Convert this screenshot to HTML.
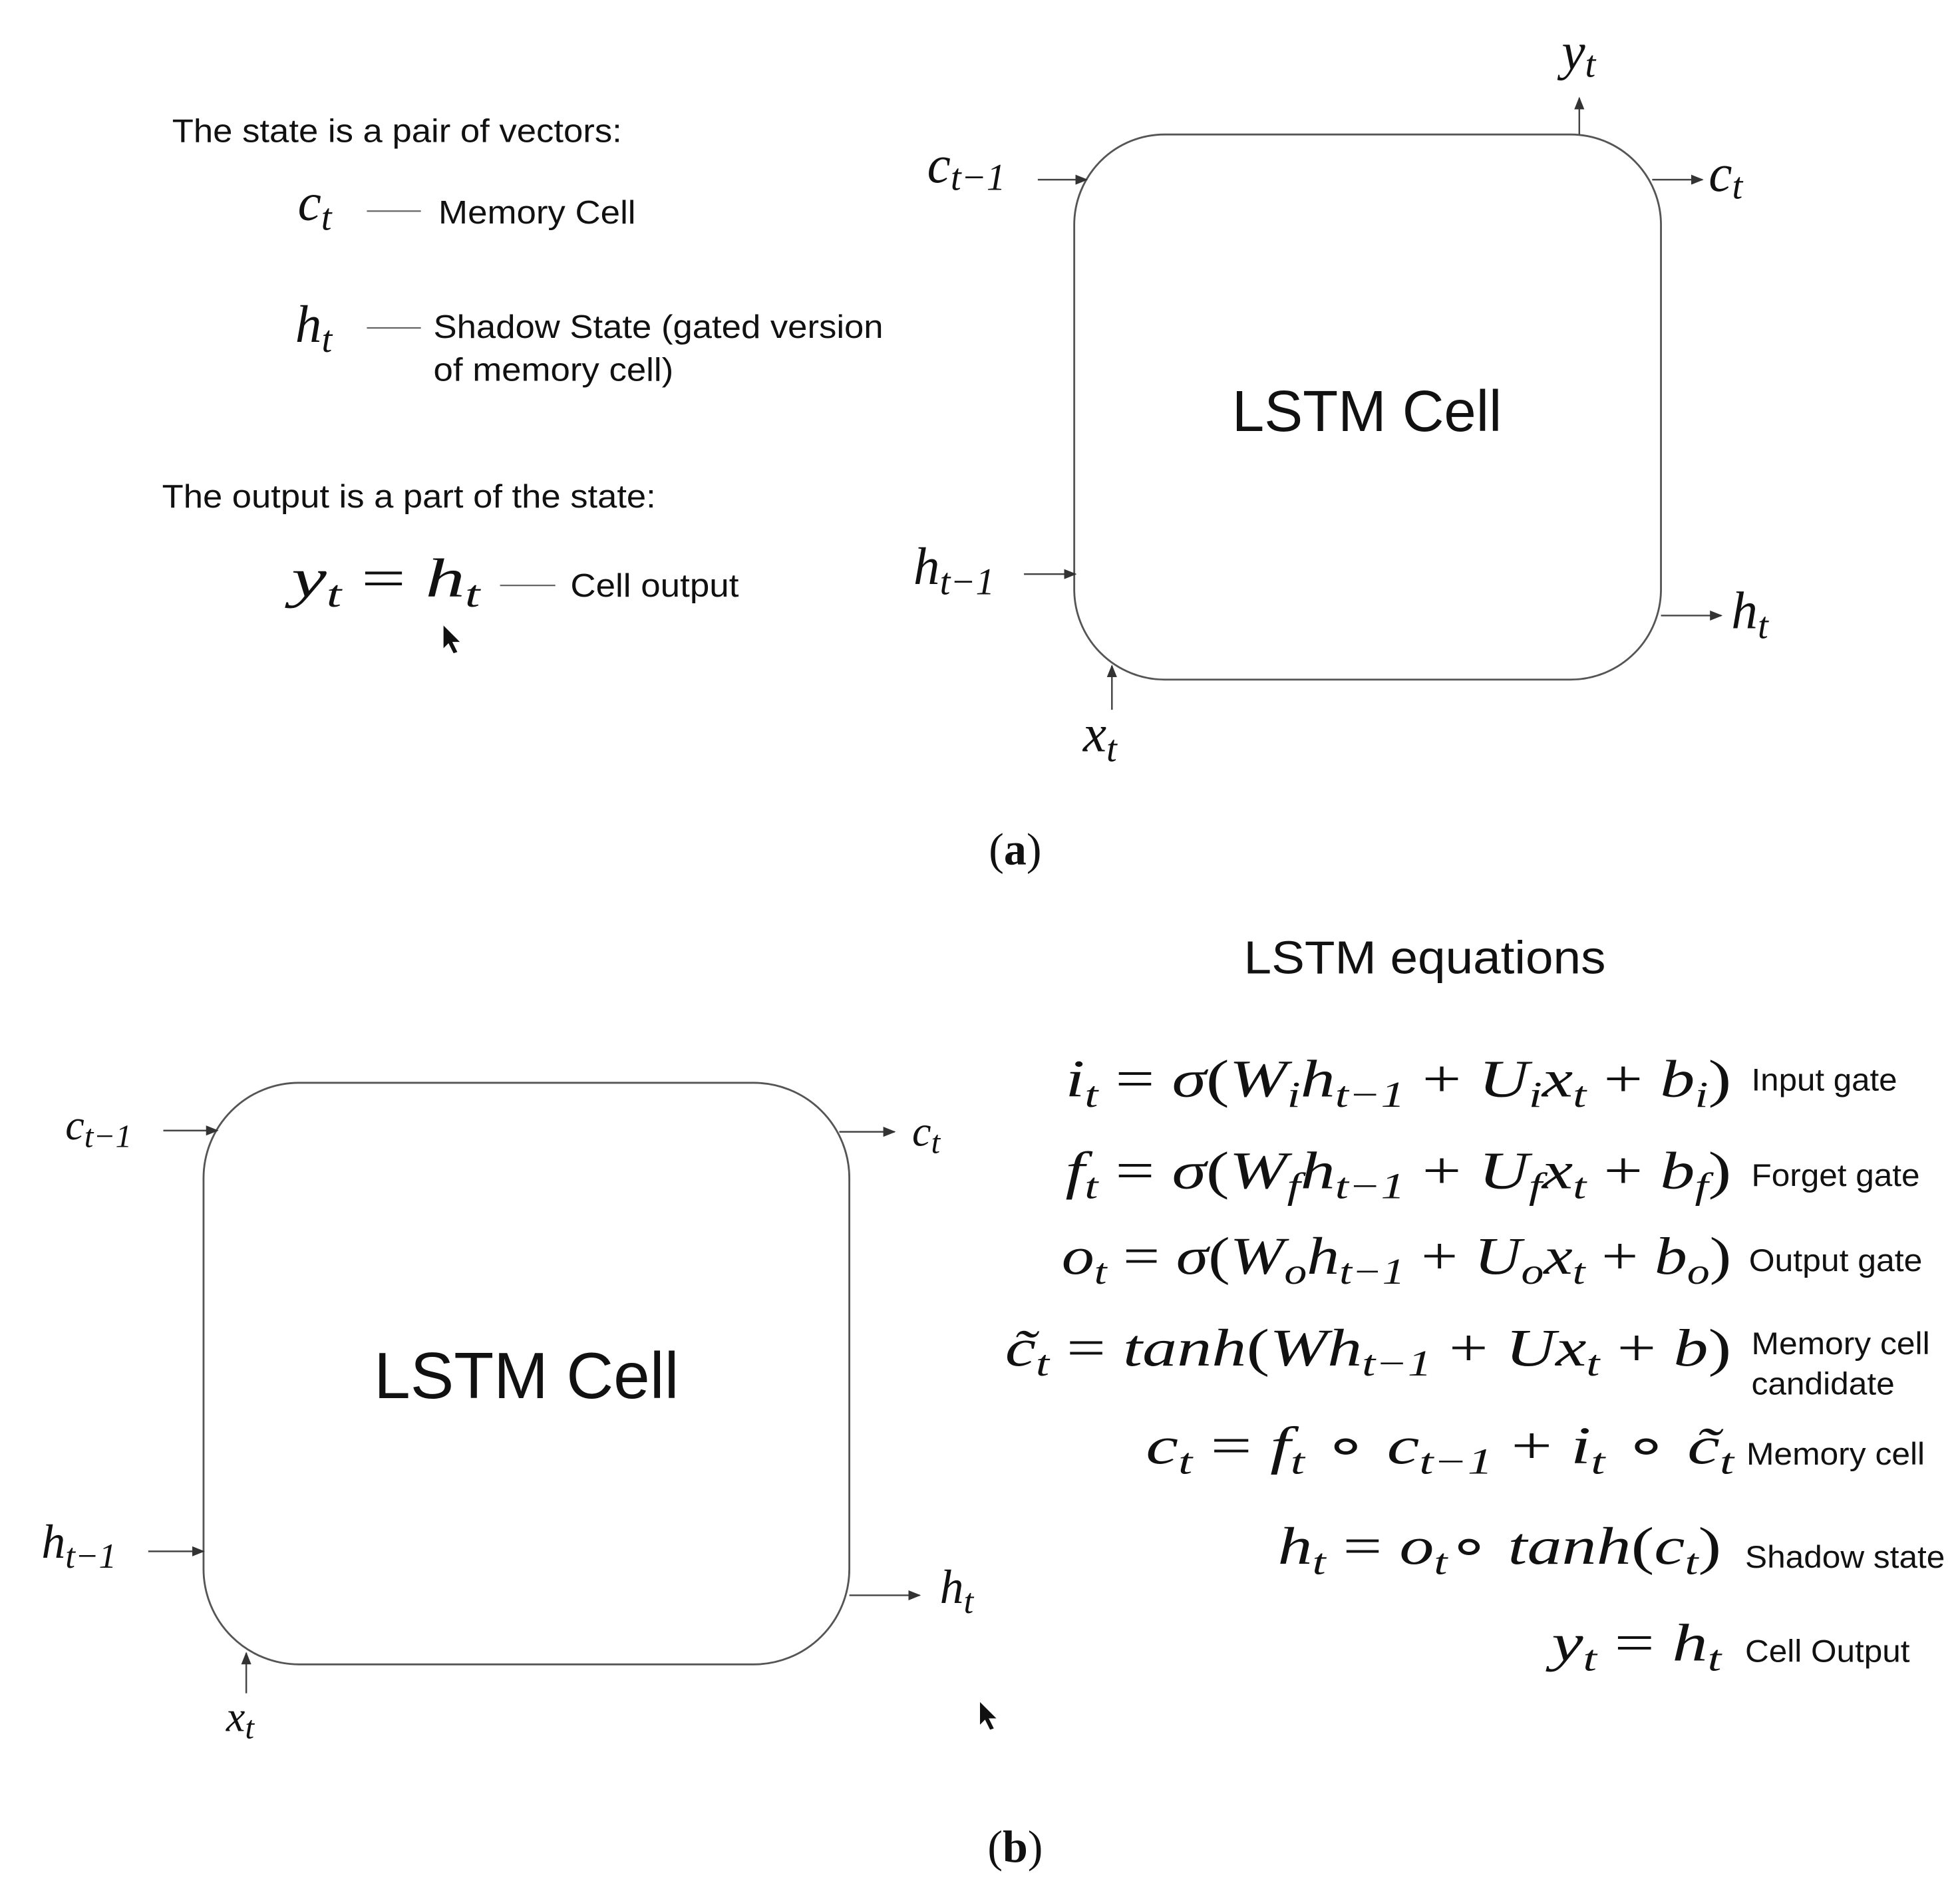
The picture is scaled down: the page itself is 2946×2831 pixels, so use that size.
<!DOCTYPE html>
<html><head><meta charset="utf-8"><style>
html,body{margin:0;padding:0;background:#fff;}
svg{display:block;}
.s{font-family:"Liberation Sans",sans-serif;fill:#111;}
.m{font-family:"Liberation Serif",serif;font-style:italic;fill:#111;}
.r{font-family:"Liberation Serif",serif;fill:#111;}
</style></head><body>
<svg width="2946" height="2831" viewBox="0 0 1560 1499" xmlns="http://www.w3.org/2000/svg">
<defs><marker id="a" markerWidth="10" markerHeight="8" refX="9" refY="4" orient="auto" markerUnits="userSpaceOnUse"><path d="M0,0 L10,4 L0,8 z" fill="#333"/></marker></defs>
<g stroke="#555" stroke-width="1.5" fill="none">
<rect x="855" y="107" width="467" height="434" rx="72"/>
<rect x="162" y="862" width="514" height="463" rx="76"/>
</g>
<g stroke="#444" stroke-width="1.3" marker-end="url(#a)">
<line x1="826" y1="143" x2="865" y2="143"/>
<line x1="1257" y1="107" x2="1257" y2="78"/>
<line x1="1315" y1="143" x2="1355" y2="143"/>
<line x1="815" y1="457" x2="856" y2="457"/>
<line x1="1322" y1="490" x2="1370" y2="490"/>
<line x1="885" y1="565" x2="885" y2="530"/>
<line x1="130" y1="900" x2="173" y2="900"/>
<line x1="668" y1="901" x2="712" y2="901"/>
<line x1="118" y1="1235" x2="162" y2="1235"/>
<line x1="676" y1="1270" x2="732" y2="1270"/>
<line x1="196" y1="1348" x2="196" y2="1316"/>
</g>
<g stroke="#666" stroke-width="1.2">
<line x1="292" y1="168" x2="335" y2="168"/>
<line x1="292" y1="261" x2="335" y2="261"/>
<line x1="398" y1="466" x2="442" y2="466"/>
</g>
<g font-size="26">
<text class="s" x="137" y="113" textLength="358" lengthAdjust="spacingAndGlyphs">The state is a pair of vectors:</text>
<text class="s" x="349" y="178" textLength="157" lengthAdjust="spacingAndGlyphs">Memory Cell</text>
<text class="s" x="345" y="269" textLength="358" lengthAdjust="spacingAndGlyphs">Shadow State (gated version</text>
<text class="s" x="345" y="303" textLength="191" lengthAdjust="spacingAndGlyphs">of memory cell)</text>
<text class="s" x="129" y="404" textLength="393" lengthAdjust="spacingAndGlyphs">The output is a part of the state:</text>
<text class="s" x="454" y="475" textLength="134" lengthAdjust="spacingAndGlyphs">Cell output</text>
</g>
<text class="m" x="237" y="175" font-size="42">c<tspan font-size="30" dy="8">t</tspan></text>
<text class="m" x="235" y="272" font-size="42">h<tspan font-size="30" dy="8">t</tspan></text>
<text class="m" x="232" y="475" font-size="44" textLength="150" lengthAdjust="spacingAndGlyphs">y<tspan font-size="30" dy="8">t</tspan><tspan dy="-8" font-style="normal"> = </tspan>h<tspan font-size="30" dy="8">t</tspan></text>
<path d="M353,498 l0,18 l4,-4 l4,8 l3,-1 l-4,-8 l6,0 z" fill="#111"/>
<text class="s" x="1088" y="343" font-size="46" text-anchor="middle">LSTM Cell</text>
<text class="m" x="738" y="145" font-size="42">c<tspan font-size="30" dy="6">t−1</tspan></text>
<text class="m" x="1243" y="55" font-size="42">y<tspan font-size="30" dy="6">t</tspan></text>
<text class="m" x="1360" y="152" font-size="42">c<tspan font-size="30" dy="6">t</tspan></text>
<text class="m" x="727" y="465" font-size="42">h<tspan font-size="30" dy="8">t−1</tspan></text>
<text class="m" x="1378" y="500" font-size="42">h<tspan font-size="30" dy="8">t</tspan></text>
<text class="m" x="862" y="598" font-size="42">x<tspan font-size="30" dy="8">t</tspan></text>
<text class="r" x="808" y="688" font-size="36" text-anchor="middle">(<tspan font-weight="bold">a</tspan>)</text>

<text class="s" x="419" y="1113" font-size="52" text-anchor="middle">LSTM Cell</text>
<text class="m" x="52" y="907" font-size="34">c<tspan font-size="26" dy="6">t−1</tspan></text>
<text class="m" x="726" y="912" font-size="34">c<tspan font-size="26" dy="6">t</tspan></text>
<text class="m" x="33" y="1240" font-size="38">h<tspan font-size="28" dy="8">t−1</tspan></text>
<text class="m" x="748" y="1276" font-size="38">h<tspan font-size="28" dy="8">t</tspan></text>
<text class="m" x="180" y="1378" font-size="34">x<tspan font-size="26" dy="6">t</tspan></text>
<path d="M780,1355 l0,18 l4,-4 l4,8 l3,-1 l-4,-8 l6,0 z" fill="#111"/>
<text class="s" x="990" y="775" font-size="37" textLength="288" lengthAdjust="spacingAndGlyphs">LSTM equations</text>

<g font-size="42">
<text class="m" x="848" y="873" textLength="530" lengthAdjust="spacingAndGlyphs">i<tspan font-size="29" dy="8">t</tspan><tspan dy="-8" font-style="normal"> = </tspan>σ<tspan font-style="normal">(</tspan>W<tspan font-size="29" dy="8">i</tspan><tspan dy="-8">h</tspan><tspan font-size="29" dy="8">t−1</tspan><tspan dy="-8" font-style="normal"> + </tspan>U<tspan font-size="29" dy="8">i</tspan><tspan dy="-8">x</tspan><tspan font-size="29" dy="8">t</tspan><tspan dy="-8" font-style="normal"> + </tspan>b<tspan font-size="29" dy="8">i</tspan><tspan dy="-8" font-style="normal">)</tspan></text>
<text class="m" x="848" y="946" textLength="530" lengthAdjust="spacingAndGlyphs">f<tspan font-size="29" dy="8">t</tspan><tspan dy="-8" font-style="normal"> = </tspan>σ<tspan font-style="normal">(</tspan>W<tspan font-size="29" dy="8">f</tspan><tspan dy="-8">h</tspan><tspan font-size="29" dy="8">t−1</tspan><tspan dy="-8" font-style="normal"> + </tspan>U<tspan font-size="29" dy="8">f</tspan><tspan dy="-8">x</tspan><tspan font-size="29" dy="8">t</tspan><tspan dy="-8" font-style="normal"> + </tspan>b<tspan font-size="29" dy="8">f</tspan><tspan dy="-8" font-style="normal">)</tspan></text>
<text class="m" x="845" y="1014" textLength="533" lengthAdjust="spacingAndGlyphs">o<tspan font-size="29" dy="8">t</tspan><tspan dy="-8" font-style="normal"> = </tspan>σ<tspan font-style="normal">(</tspan>W<tspan font-size="29" dy="8">o</tspan><tspan dy="-8">h</tspan><tspan font-size="29" dy="8">t−1</tspan><tspan dy="-8" font-style="normal"> + </tspan>U<tspan font-size="29" dy="8">o</tspan><tspan dy="-8">x</tspan><tspan font-size="29" dy="8">t</tspan><tspan dy="-8" font-style="normal"> + </tspan>b<tspan font-size="29" dy="8">o</tspan><tspan dy="-8" font-style="normal">)</tspan></text>
<text class="m" x="800" y="1087" textLength="578" lengthAdjust="spacingAndGlyphs">c̃<tspan font-size="29" dy="8">t</tspan><tspan dy="-8" font-style="normal"> = </tspan>tanh<tspan font-style="normal">(</tspan>Wh<tspan font-size="29" dy="8">t−1</tspan><tspan dy="-8" font-style="normal"> + </tspan>Ux<tspan font-size="29" dy="8">t</tspan><tspan dy="-8" font-style="normal"> + </tspan>b<tspan font-style="normal">)</tspan></text>
<text class="m" x="912" y="1165" textLength="468" lengthAdjust="spacingAndGlyphs">c<tspan font-size="29" dy="8">t</tspan><tspan dy="-8" font-style="normal"> = </tspan>f<tspan font-size="29" dy="8">t</tspan><tspan dy="-8" font-style="normal"> ∘ </tspan>c<tspan font-size="29" dy="8">t−1</tspan><tspan dy="-8" font-style="normal"> + </tspan>i<tspan font-size="29" dy="8">t</tspan><tspan dy="-8" font-style="normal"> ∘ </tspan>c̃<tspan font-size="29" dy="8">t</tspan></text>
<text class="m" x="1017" y="1245" textLength="353" lengthAdjust="spacingAndGlyphs">h<tspan font-size="29" dy="8">t</tspan><tspan dy="-8" font-style="normal"> = </tspan>o<tspan font-size="29" dy="8">t</tspan><tspan dy="-8" font-style="normal">∘ </tspan>tanh<tspan font-style="normal">(</tspan>c<tspan font-size="29" dy="8">t</tspan><tspan dy="-8" font-style="normal">)</tspan></text>
<text class="m" x="1235" y="1322" textLength="135" lengthAdjust="spacingAndGlyphs">y<tspan font-size="29" dy="8">t</tspan><tspan dy="-8" font-style="normal"> = </tspan>h<tspan font-size="29" dy="8">t</tspan></text>
</g>
<g font-size="25">
<text class="s" x="1394" y="868" textLength="116" lengthAdjust="spacingAndGlyphs">Input gate</text>
<text class="s" x="1394" y="944" textLength="134" lengthAdjust="spacingAndGlyphs">Forget gate</text>
<text class="s" x="1392" y="1012" textLength="138" lengthAdjust="spacingAndGlyphs">Output gate</text>
<text class="s" x="1394" y="1078" textLength="142" lengthAdjust="spacingAndGlyphs">Memory cell</text>
<text class="s" x="1394" y="1110" textLength="114" lengthAdjust="spacingAndGlyphs">candidate</text>
<text class="s" x="1390" y="1166" textLength="142" lengthAdjust="spacingAndGlyphs">Memory cell</text>
<text class="s" x="1389" y="1248" textLength="159" lengthAdjust="spacingAndGlyphs">Shadow state</text>
<text class="s" x="1389" y="1323" textLength="131" lengthAdjust="spacingAndGlyphs">Cell Output</text>
</g>
<text class="r" x="808" y="1482" font-size="36" text-anchor="middle">(<tspan font-weight="bold">b</tspan>)</text>
</svg>
</body></html>
